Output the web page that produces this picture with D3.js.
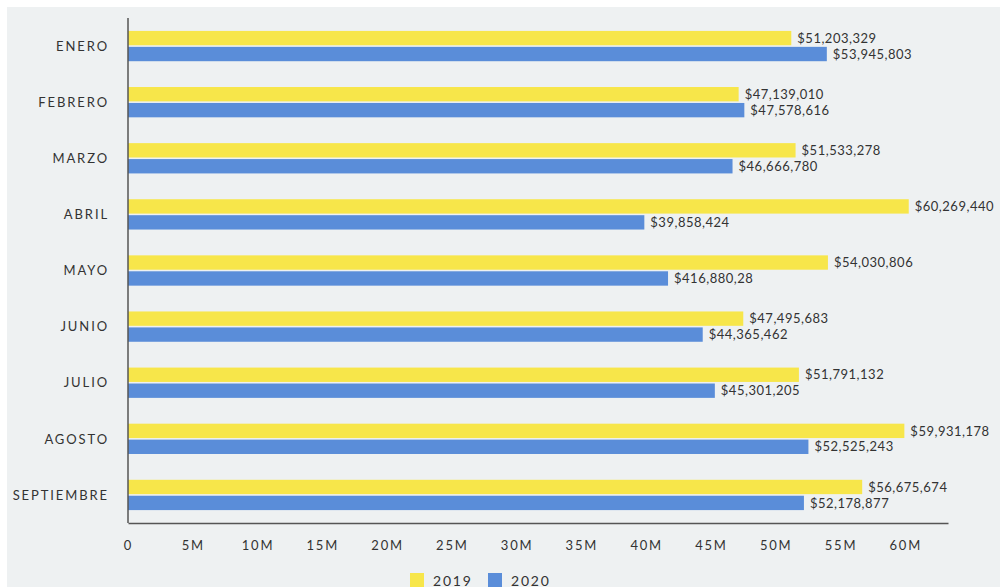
<!DOCTYPE html>
<html>
<head>
<meta charset="utf-8">
<script src="https://cdn.jsdelivr.net/npm/d3@7"></script>
<style>
  body { margin: 0; background: #ffffff; }
  svg { display: block; font-family: Lato, "Open Sans", sans-serif; }
</style>
</head>
<body>
<script>
// Monthly values
var months = ["ENERO", "FEBRERO", "MARZO", "ABRIL", "MAYO", "JUNIO", "JULIO", "AGOSTO", "SEPTIEMBRE"];
var series = ["2019", "2020"];
var values2019 = [51203329, 47139010, 51533278, 60269440, 54030806, 47495683, 51791132, 59931178, 56675674];
var values2020 = [53945803, 47578616, 46666780, 39858424, 41688028, 44365462, 45301205, 52525243, 52178877];
// label text exactly as printed in the chart (May 2020 is printed oddly)
var labels2019 = ["$51,203,329", "$47,139,010", "$51,533,278", "$60,269,440", "$54,030,806", "$47,495,683", "$51,791,132", "$59,931,178", "$56,675,674"];
var labels2020 = ["$53,945,803", "$47,578,616", "$46,666,780", "$39,858,424", "$416,880,28", "$44,365,462", "$45,301,205", "$52,525,243", "$52,178,877"];
var tickValues = [0, 5e6, 10e6, 15e6, 20e6, 25e6, 30e6, 35e6, 40e6, 45e6, 50e6, 55e6, 60e6];
var colors = ["#f7e64a", "#5a8dd9"];

(function() {
    var width = 1000, height = 587;
    var plotLeft = 128, plotRight = 948, plotTop = 18, plotBottom = 523;

    var svg = d3.select("body").append("svg")
        .attr("width", width)
        .attr("height", height);

    // light grey panel
    svg.append("rect")
        .attr("x", 7).attr("y", 7)
        .attr("width", width - 7).attr("height", height - 7)
        .attr("fill", "#eef1f2");

    var x = d3.scaleLinear().domain([0, 63.3e6]).range([plotLeft, plotRight]);

    var y0 = d3.scaleBand().domain(months).range([plotTop, plotBottom])
        .paddingInner(0.46).paddingOuter(0.23);
    var y1 = d3.scaleBand().domain(series).range([0, y0.bandwidth()]).paddingInner(0.1);

    // one row per bar
    var rows = [];
    months.forEach(function(m, i) {
        rows.push({ month: m, s: "2019", v: values2019[i], label: labels2019[i], c: colors[0] });
        rows.push({ month: m, s: "2020", v: values2020[i], label: labels2020[i], c: colors[1] });
    });

    svg.selectAll(".bar")
        .data(rows)
        .enter()
        .append("rect")
        .attr("class", "bar")
        .attr("x", x(0))
        .attr("y", function(d) { return y0(d.month) + y1(d.s); })
        .attr("width", function(d) { return x(d.v) - x(0); })
        .attr("height", y1.bandwidth())
        .attr("fill", function(d) { return d.c; });

    svg.selectAll(".val")
        .data(rows)
        .enter()
        .append("text")
        .attr("class", "val")
        .attr("x", function(d) { return x(d.v) + 6; })
        .attr("y", function(d) { return y0(d.month) + y1(d.s) + y1.bandwidth() / 2; })
        .attr("dy", "0.36em")
        .attr("font-size", 13)
        .attr("letter-spacing", 0.5)
        .attr("fill", "#333")
        .text(function(d) { return d.label; });

    // category labels
    svg.selectAll(".cat")
        .data(months)
        .enter()
        .append("text")
        .attr("class", "cat")
        .attr("x", 109)
        .attr("y", function(d) { return y0(d) + y0.bandwidth() / 2; })
        .attr("dy", "0.36em")
        .attr("text-anchor", "end")
        .attr("font-size", 13)
        .attr("letter-spacing", 1.9)
        .attr("fill", "#333")
        .text(function(d) { return d; });

    // y axis line
    svg.append("line")
        .attr("x1", plotLeft).attr("x2", plotLeft)
        .attr("y1", plotTop).attr("y2", plotBottom)
        .attr("stroke", "#555").attr("stroke-width", 1.5);

    // x axis
    var xAxis = d3.axisBottom(x)
        .tickValues(tickValues)
        .tickSize(0)
        .tickPadding(18)
        .tickFormat(function(d) { return d === 0 ? "0" : (d / 1e6) + "M"; });

    var gx = svg.append("g")
        .attr("transform", "translate(0," + plotBottom + ")")
        .call(xAxis);
    gx.select(".domain").attr("stroke", "#555").attr("stroke-width", 1.5);
    gx.selectAll("text")
        .attr("font-family", "Lato, 'Open Sans', sans-serif")
        .attr("font-size", 13)
        .attr("letter-spacing", 1.8)
        .attr("fill", "#333");

    // legend
    var legend = svg.append("g").attr("transform", "translate(410,573)");
    var items = legend.selectAll("g")
        .data(series)
        .enter()
        .append("g")
        .attr("transform", function(d, i) { return "translate(" + (i * 78) + ",0)"; });
    items.append("rect")
        .attr("width", 14).attr("height", 15)
        .attr("fill", function(d, i) { return colors[i]; });
    items.append("text")
        .attr("x", 23).attr("y", 13)
        .attr("font-size", 14)
        .attr("letter-spacing", 1.8)
        .attr("fill", "#333")
        .text(function(d) { return d; });
})();
</script>
</body>
</html>
